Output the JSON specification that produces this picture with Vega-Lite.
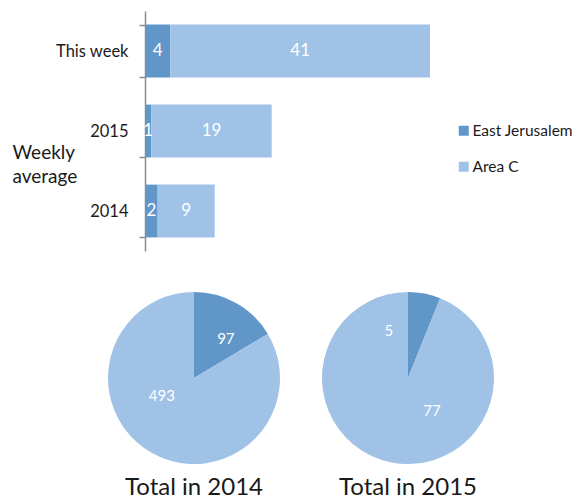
{
  "$schema": "https://vega.github.io/schema/vega-lite/v6.json",
  "padding": {"left": 12, "top": 3, "right": 5, "bottom": 3},
  "background": "white",
  "config": {"view": {"stroke": null}, "font": "Lato"},
  "datasets": {
    "bars": [
      {"cat": "This week", "series": "East Jerusalem", "value": 4, "ord": 1},
      {"cat": "This week", "series": "Area C", "value": 41, "ord": 2},
      {"cat": "2015", "series": "East Jerusalem", "value": 1, "ord": 1},
      {"cat": "2015", "series": "Area C", "value": 19, "ord": 2},
      {"cat": "2014", "series": "East Jerusalem", "value": 2, "ord": 1},
      {"cat": "2014", "series": "Area C", "value": 9, "ord": 2}
    ],
    "pies": [
      {"year": 2014, "series": "East Jerusalem", "value": 97, "ord": 1},
      {"year": 2014, "series": "Area C", "value": 493, "ord": 2},
      {"year": 2015, "series": "East Jerusalem", "value": 5, "ord": 1},
      {"year": 2015, "series": "Area C", "value": 77, "ord": 2}
    ]
  },
  "bounds": "flush",
  "spacing": 41,
  "resolve": {"scale": {"color": "independent"}},
  "vconcat": [
    {
      "width": 285,
      "height": 240,
      "data": {"name": "bars"},
      "encoding": {
        "y": {
          "field": "cat", "type": "nominal",
          "sort": ["This week", "2015", "2014"],
          "scale": {"paddingInner": 0.34, "paddingOuter": 0.17},
          "axis": {
            "title": ["Weekly", "average"],
            "titleAngle": 0, "titleAlign": "left", "titleBaseline": "alphabetic",
            "titleX": -133, "titleY": 147,
            "titleFont": "Lato", "titleFontSize": 19, "titleFontWeight": "normal",
            "titleColor": "#1a1a1a", "titleLineHeight": 24,
            "labelFont": "Lato", "labelFontSize": 16.5, "labelColor": "#1a1a1a",
            "labelPadding": 11, "tickSize": 6, "tickBand": "extent",
            "domainColor": "#8c8c8c", "tickColor": "#8c8c8c",
            "domainWidth": 1.5, "tickWidth": 1.5
          }
        }
      },
      "layer": [
        {
          "mark": {"type": "bar"},
          "encoding": {
            "x": {"field": "value", "type": "quantitative", "stack": "zero",
                  "scale": {"domain": [0, 45], "nice": false}, "axis": null},
            "color": {
              "field": "series", "type": "nominal",
              "scale": {"domain": ["East Jerusalem", "Area C"], "range": ["#6196c9", "#a0c2e7"]},
              "legend": {
                "title": null, "orient": "none", "legendX": 311, "legendY": 112,
                "symbolType": "square", "symbolSize": 100, "symbolStrokeWidth": 0,
                "labelFont": "Lato", "labelFontSize": 15.5, "labelColor": "#1a1a1a",
                "labelOffset": 1, "rowPadding": 19
              }
            },
            "order": {"field": "ord", "type": "quantitative"}
          }
        },
        {
          "transform": [
            {"stack": "value", "groupby": ["cat"], "sort": [{"field": "ord", "order": "ascending"}], "as": ["x0", "x1"]},
            {"fold": ["x0", "x1"], "as": ["k", "v"]},
            {"aggregate": [{"op": "mean", "field": "v", "as": "mid"}], "groupby": ["cat", "series", "value"]}
          ],
          "mark": {"type": "text", "color": "white", "fontSize": 17, "font": "Lato"},
          "encoding": {
            "x": {"field": "mid", "type": "quantitative"},
            "text": {"field": "value", "type": "quantitative"}
          }
        }
      ]
    },
    {
      "hconcat": [
        {
          "width": 98, "height": 172,
          "title": {"text": "Total in 2014", "orient": "bottom", "fontSize": 24, "font": "Lato", "fontWeight": "normal", "color": "#1a1a1a", "offset": 12},
          "data": {"name": "pies"},
          "transform": [{"filter": {"field": "year", "equal": 2014}}],
          "encoding": {
            "theta": {"field": "value", "type": "quantitative", "stack": true},
            "color": {"field": "series", "type": "nominal",
                      "scale": {"domain": ["East Jerusalem", "Area C"], "range": ["#6196c9", "#a0c2e7"]}, "legend": null},
            "order": {"field": "ord", "type": "quantitative"}
          },
          "layer": [
            {"mark": {"type": "arc", "outerRadius": 86}},
            {
              "transform": [
                {"stack": "value", "groupby": [], "sort": [{"field": "ord", "order": "ascending"}], "as": ["t0", "t1"]},
                {"filter": {"field": "series", "equal": "East Jerusalem"}}
              ],
              "mark": {"type": "text", "radius": 50, "thetaOffset": 0.691, "fontSize": 15, "font": "Lato"},
              "encoding": {
                "theta": {"field": "t0", "type": "quantitative", "stack": null},
                "text": {"field": "value", "type": "quantitative"},
                "color": {"value": "white"}
              }
            },
            {
              "transform": [
                {"stack": "value", "groupby": [], "sort": [{"field": "ord", "order": "ascending"}], "as": ["t0", "t1"]},
                {"filter": {"field": "series", "equal": "Area C"}}
              ],
              "mark": {"type": "text", "radius": 37, "thetaOffset": 3.164, "fontSize": 15, "font": "Lato"},
              "encoding": {
                "theta": {"field": "t0", "type": "quantitative", "stack": null},
                "text": {"field": "value", "type": "quantitative"},
                "color": {"value": "white"}
              }
            }
          ]
        },
        {
          "width": 98, "height": 172,
          "title": {"text": "Total in 2015", "orient": "bottom", "fontSize": 24, "font": "Lato", "fontWeight": "normal", "color": "#1a1a1a", "offset": 12},
          "data": {"name": "pies"},
          "transform": [{"filter": {"field": "year", "equal": 2015}}],
          "encoding": {
            "theta": {"field": "value", "type": "quantitative", "stack": true},
            "color": {"field": "series", "type": "nominal",
                      "scale": {"domain": ["East Jerusalem", "Area C"], "range": ["#6196c9", "#a0c2e7"]}, "legend": null},
            "order": {"field": "ord", "type": "quantitative"}
          },
          "layer": [
            {"mark": {"type": "arc", "outerRadius": 86}},
            {
              "transform": [
                {"stack": "value", "groupby": [], "sort": [{"field": "ord", "order": "ascending"}], "as": ["t0", "t1"]},
                {"filter": {"field": "series", "equal": "East Jerusalem"}}
              ],
              "mark": {"type": "text", "radius": 51, "thetaOffset": -0.387, "fontSize": 15, "font": "Lato"},
              "encoding": {
                "theta": {"field": "t0", "type": "quantitative", "stack": null},
                "text": {"field": "value", "type": "quantitative"},
                "color": {"value": "white"}
              }
            },
            {
              "transform": [
                {"stack": "value", "groupby": [], "sort": [{"field": "ord", "order": "ascending"}], "as": ["t0", "t1"]},
                {"filter": {"field": "series", "equal": "Area C"}}
              ],
              "mark": {"type": "text", "radius": 41, "thetaOffset": 2.134, "fontSize": 15, "font": "Lato"},
              "encoding": {
                "theta": {"field": "t0", "type": "quantitative", "stack": null},
                "text": {"field": "value", "type": "quantitative"},
                "color": {"value": "white"}
              }
            }
          ]
        }
      ],
      "spacing": 116,
      "bounds": "flush"
    }
  ]
}
